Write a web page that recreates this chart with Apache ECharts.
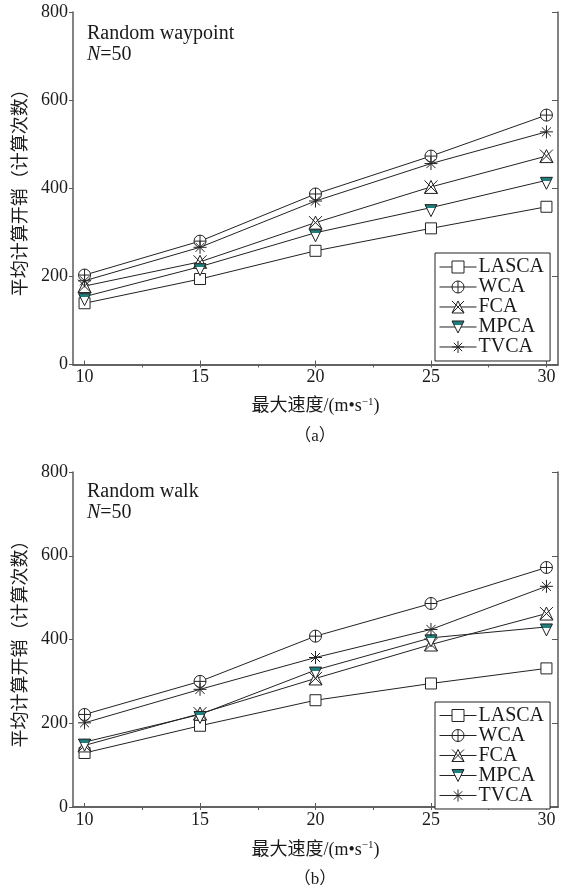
<!DOCTYPE html>
<html>
<head>
<meta charset="utf-8">
<script src="https://cdn.jsdelivr.net/npm/echarts@6/dist/echarts.min.js"></script>
<style>
  html, body { margin: 0; padding: 0; background: #fff; }
  #chart { width: 569px; height: 891px; }
</style>
</head>
<body>
<div id="chart"></div>
<script>
// Maximum speed (m/s) on the x axis
const speeds = [10, 15, 20, 25, 30];
const yTicks = [0, 200, 400, 600, 800];
const seriesNames = ['LASCA', 'WCA', 'FCA', 'MPCA', 'TVCA'];

// (a) Random waypoint mobility, N = 50
const lascaWaypoint = [139, 194, 258, 309, 358];
const wcaWaypoint   = [203, 280, 387, 473, 566];
const fcaWaypoint   = [178, 233, 322, 403, 473];
const mpcaWaypoint  = [154, 222, 299, 356, 418];
const tvcaWaypoint  = [190, 266, 371, 456, 528];

// (b) Random walk mobility, N = 50
const lascaWalk = [129, 194, 255, 295, 331];
const wcaWalk   = [221, 300, 408, 486, 572];
const fcaWalk   = [147, 223, 307, 388, 462];
const mpcaWalk  = [155, 221, 327, 404, 430];
const tvcaWalk  = [201, 281, 357, 424, 527];

const FONT = "'Liberation Serif', 'Noto Sans CJK SC', serif";
const INK = '#1a1a1a';
const AXIS = '#5a5a5a';
const TEAL = '#1e7f7c';

// marker shapes (drawn in a 12-unit box so stroke width stays 1px)
const markers = {
  LASCA: { symbol: 'rect', size: 11, fill: '#fff' },
  WCA:   { symbol: 'path://M0,6A6,6,0,1,1,12,6A6,6,0,1,1,0,6ZM6,0L6,12M0,6L12,6', size: 12, fill: '#fff' },
  FCA:   { symbol: 'path://M6,0L12,12L0,12ZM0,0L12,12M12,0L0,12', size: 13, fill: '#fff' },
  MPCA:  { symbol: 'path://M0,0L12,0L6,10Z', size: 12, offset: [0, 3],
           fill: { type: 'linear', x: 0, y: 0, x2: 0, y2: 1, colorStops: [
             { offset: 0, color: TEAL }, { offset: 0.32, color: TEAL },
             { offset: 0.32, color: '#fff' }, { offset: 1, color: '#fff' } ] } },
  TVCA:  { symbol: 'path://M6,0L6,12M0,6L12,6M1.8,1.8L10.2,10.2M10.2,1.8L1.8,10.2', size: 13, fill: '#fff' }
};

function pairs(values) {
  return speeds.map((s, i) => [s, values[i]]);
}

function makeSeries(name, values, idx) {
  const m = markers[name];
  return {
    name: name,
    type: 'line',
    xAxisIndex: idx * 2,
    yAxisIndex: idx * 2,
    data: pairs(values),
    symbol: m.symbol,
    symbolSize: m.size,
    symbolOffset: m.offset || [0, 0],
    showAllSymbol: true,
    lineStyle: { color: '#222', width: 1 },
    itemStyle: { color: m.fill, borderColor: '#222', borderWidth: 1 },
    emphasis: { disabled: true },
    animation: false,
    z: 3
  };
}

const grids = [
  { left: 73, top: 12, width: 485, height: 352.5 },
  { left: 73, top: 472, width: 485, height: 335 }
];

function xAxes(g) {
  return [
    {
      type: 'value', gridIndex: g, position: 'bottom', min: 9.5, max: 30.5,
      axisLine: { lineStyle: { color: AXIS, width: 1.5 } },
      axisTick: { inside: true, length: 4, customValues: speeds, lineStyle: { color: AXIS } },
      axisLabel: { customValues: speeds, color: INK, fontFamily: FONT, fontSize: 18, margin: 4 },
      splitLine: { show: false },
      name: '最大速度/(m•s{sup|−1})',
      nameLocation: 'middle',
      nameGap: g === 0 ? 32 : 33,
      nameTextStyle: {
        color: INK, fontFamily: FONT, fontSize: 18, lineHeight: 20,
        rich: { sup: { fontSize: 11, fontFamily: FONT, color: INK, verticalAlign: 'top', lineHeight: 20, padding: [0, 0, 8, 0] } }
      }
    },
    {
      type: 'value', gridIndex: g, position: 'top', min: 9.5, max: 30.5,
      axisLine: { lineStyle: { color: AXIS, width: 1.5 } },
      axisTick: { inside: true, length: 3, customValues: [12.5, 15, 17.5, 20, 22.5, 25, 27.5, 30], lineStyle: { color: AXIS } },
      axisLabel: { show: false },
      splitLine: { show: false }
    }
  ];
}

function yAxes(g) {
  return [
    {
      type: 'value', gridIndex: g, position: 'left', min: 0, max: 800, interval: 200,
      axisLine: { show: true, lineStyle: { color: AXIS, width: 1.5 } },
      axisTick: { show: true, inside: false, length: 4, lineStyle: { color: AXIS } },
      axisLabel: { color: INK, fontFamily: FONT, fontSize: 18, margin: 5 },
      splitLine: { show: false },
      name: '平均计算开销（计算次数）',
      nameLocation: 'middle',
      nameGap: 38,
      nameRotate: 90,
      nameTextStyle: { color: INK, fontFamily: FONT, fontSize: 18 }
    },
    {
      type: 'value', gridIndex: g, position: 'right', min: 0, max: 800, interval: 200,
      axisLine: { show: true, lineStyle: { color: AXIS, width: 1.5 } },
      axisTick: { show: true, inside: true, length: 6, lineStyle: { color: AXIS } },
      axisLabel: { show: false },
      splitLine: { show: false }
    }
  ];
}

function legendFor(top, rowH, pad) {
  return {
    orient: 'vertical',
    left: 435,
    top: top,
    data: seriesNames,
    itemWidth: 37,
    itemHeight: 15,
    itemGap: 0,
    padding: pad,
    backgroundColor: '#fff',
    borderColor: '#222',
    borderWidth: 1,
    borderRadius: 0,
    selectedMode: false,
    itemStyle: { borderWidth: 1, borderColor: '#222' },
    lineStyle: { width: 1, color: '#222' },
    textStyle: { color: INK, fontFamily: FONT, fontSize: 20, lineHeight: rowH, padding: [0, 0, 0, -3] }
  };
}

const waypointSets = [lascaWaypoint, wcaWaypoint, fcaWaypoint, mpcaWaypoint, tvcaWaypoint];
const walkSets = [lascaWalk, wcaWalk, fcaWalk, mpcaWalk, tvcaWalk];

const series = [];
seriesNames.forEach((n, i) => series.push(makeSeries(n, waypointSets[i], 0)));
seriesNames.forEach((n, i) => series.push(makeSeries(n, walkSets[i], 1)));

function panelNote(top, scenario) {
  return {
    type: 'text', left: 87, top: top,
    style: {
      text: scenario + '\n{it|N}=50',
      fill: INK, font: '20px ' + FONT, lineHeight: 21,
      rich: { it: { fontStyle: 'italic', fontFamily: FONT, fontSize: 20, fill: INK } }
    }
  };
}

function caption(cy, label) {
  return {
    type: 'text', x: 315, y: cy,
    style: { text: label, fill: INK, font: '17px ' + FONT, textAlign: 'center', textVerticalAlign: 'middle' }
  };
}

const chart = echarts.init(document.getElementById('chart'), null, { renderer: 'canvas' });
chart.setOption({
  backgroundColor: '#fff',
  animation: false,
  grid: grids,
  xAxis: xAxes(0).concat(xAxes(1)),
  yAxis: yAxes(0).concat(yAxes(1)),
  legend: [legendFor(253, 19.8, [4, 6, 4, 4]), legendFor(702, 18.5, [3.5, 6, 3.5, 4])],
  series: series,
  graphic: [
    panelNote(23, 'Random waypoint'),
    panelNote(481, 'Random walk'),
    caption(437, '（a）'),
    caption(880, '（b）')
  ]
});
</script>
</body>
</html>
